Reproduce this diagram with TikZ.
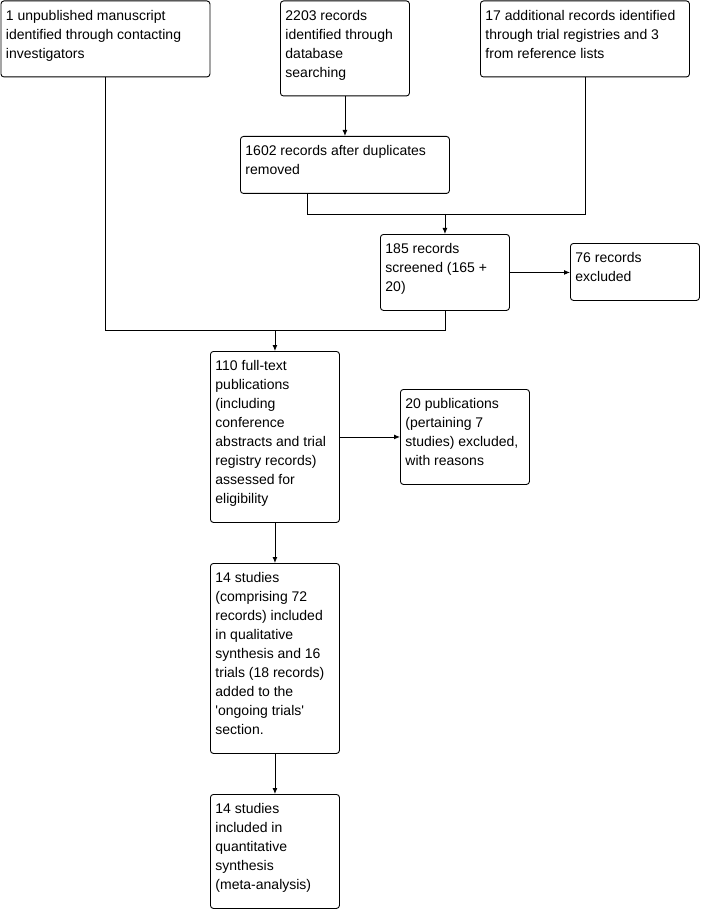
\documentclass[tikz,border=0pt]{standalone}
\usepackage{fontspec}
\setmainfont{Liberation Sans}
\usetikzlibrary{arrows.meta,calc}
\tikzset{
  box/.style={draw, line width=0.9pt, rounded corners=3pt, anchor=north west,
              inner xsep=5pt, inner ysep=5pt, font=\fontsize{14}{19}\selectfont},
  link/.style={line width=0.9pt},
  arr/.style={line width=0.9pt, -{Latex[length=6pt,width=5pt]}}
}
\newcommand{\bx}[6]{%
  \node[box] (#1) at (#2pt,-#3pt)
   {\parbox[c][\dimexpr#5pt-10pt\relax][t]{\dimexpr#4pt-10pt\relax}{\rule{0pt}{14.5pt}#6}};}
\begin{document}
\begin{tikzpicture}[x=1pt,y=1pt]
\useasboundingbox (0,0) rectangle (702,-909);
\bx{A}{0.5}{0.5}{209}{76}{1 unpublished manuscript\\identified through contacting\\investigators}
\bx{B}{280}{0.5}{129}{95}{2203 records\\identified through\\database\\searching}
\bx{C}{480}{0.5}{209}{76}{17 additional records identified\\through trial registries and 3\\from reference lists}
\bx{D}{240}{136}{209}{57}{1602 records after duplicates\\removed}
\bx{E}{380}{234}{129}{76}{185 records\\screened (165 +\\20)}
\bx{F}{570}{243}{129}{57}{76 records\\excluded}
\bx{G}{210}{351}{129}{171}{110 full-text\\publications\\(including\\conference\\abstracts and trial\\registry records)\\assessed for\\eligibility}
\bx{H}{400}{389}{129}{95}{20 publications\\(pertaining 7\\studies) excluded,\\with reasons}
\bx{I}{210}{563}{129}{190}{14 studies\\(comprising 72\\records) included\\in qualitative\\synthesis and 16\\trials (18 records)\\added to the\\\textquotesingle ongoing trials\textquotesingle\\section.}
\bx{J}{210}{794}{129}{114}{14 studies\\included in\\quantitative\\synthesis\\(meta-analysis)}

\coordinate (m1) at (E.north |- 0,-214);
\coordinate (m2) at (G.north |- 0,-330);

\draw[arr] (B) -- (D);
\draw[link] ([xshift=-38pt]D.south) |- (m1);
\draw[link] (C.south) |- (m1);
\draw[arr] (m1) -- (E);
\draw[link] (A.south) |- (m2);
\draw[link] (E.south) |- (m2);
\draw[arr] (m2) -- (G);
\draw[arr] (E.east) -- (E.east -| F.west);
\draw[arr] (G.east) -- (G.east -| H.west);
\draw[arr] (G) -- (I);
\draw[arr] (I) -- (J);
\end{tikzpicture}
\end{document}
